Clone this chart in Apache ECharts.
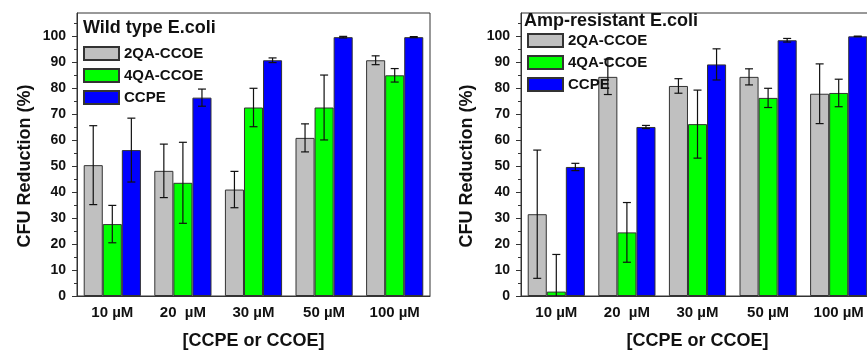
<!DOCTYPE html>
<html>
<head>
<meta charset="utf-8">
<script src="https://cdn.jsdelivr.net/npm/echarts@6/dist/echarts.min.js"></script>
<style>
html,body{margin:0;padding:0;background:#fff;}
#c{width:867px;height:354px;}
</style>
</head>
<body>
<div id="c"></div>
<script>
var categories = ['10 µM', '20  µM', '30 µM', '50 µM', '100 µM'];
var seriesNames = ['2QA-CCOE', '4QA-CCOE', 'CCPE'];
var yTicks = [0, 10, 20, 30, 40, 50, 60, 70, 80, 90, 100];

var wild2QA = [50.4, 48.2, 41.0, 60.9, 90.8];
var wild2QAErr = [15.2, 10.3, 7.0, 5.4, 1.7];
var wild4QA = [27.7, 43.6, 72.6, 72.6, 85.0];
var wild4QAErr = [7.2, 15.6, 7.4, 12.5, 2.6];
var wildCCPE = [56.2, 76.4, 90.8, 99.7, 99.7];
var wildCCPEErr = [12.3, 3.3, 0.9, 0.3, 0.2];

var amp2QA = [31.5, 84.4, 80.9, 84.4, 77.9];
var amp2QAErr = [24.7, 6.8, 2.8, 3.1, 11.5];
var amp4QA = [1.7, 24.5, 66.2, 76.3, 78.2];
var amp4QAErr = [14.3, 11.5, 13.1, 3.7, 5.3];
var ampCCPE = [49.7, 65.1, 89.2, 98.5, 100.0];
var ampCCPEErr = [1.4, 0.6, 6.0, 0.7, 0.1];

var FONT = '"Liberation Sans", Arial, sans-serif';
var colors = ['#c0c0c0', '#00ff00', '#0000ff'];
var CAT_GAP = 0.19;

var chart = echarts.init(document.getElementById('c'), null, {renderer: 'canvas'});

function makeGrid(left) {
  return {left: left, top: 13, width: 353, height: 283, show: true, borderColor: '#333', borderWidth: 1,
          containLabel: false, outerBoundsMode: 'none'};
}
function makeX(gridIndex) {
  return [{
    type: 'category', gridIndex: gridIndex, data: categories,
    axisLine: {lineStyle: {color: '#333', width: 1}},
    axisTick: {alignWithLabel: true, length: 4, lineStyle: {color: '#333'}},
    axisLabel: {margin: 9, fontFamily: FONT, fontWeight: 'bold', fontSize: 15, color: '#111', hideOverlap: false},
    name: '[CCPE or CCOE]', nameLocation: 'middle', nameGap: 36,
    nameTextStyle: {fontFamily: FONT, fontWeight: 'bold', fontSize: 18, color: '#111'}
  }, {
    type: 'category', gridIndex: gridIndex, data: categories, position: 'bottom',
    axisLine: {show: false},
    axisTick: {alignWithLabel: false, length: 3, lineStyle: {color: '#333'}},
    axisLabel: {show: false}
  }];
}
function makeY(gridIndex) {
  return {
    type: 'value', gridIndex: gridIndex, min: 0, max: 109, interval: 10,
    splitLine: {show: false},
    axisLine: {show: true, lineStyle: {color: '#333', width: 1}},
    axisTick: {show: true, length: 5, lineStyle: {color: '#333'}, customValues: yTicks},
    minorTick: {show: true, splitNumber: 2, length: 3, lineStyle: {color: '#333'}},
    axisLabel: {margin: 11, fontFamily: FONT, fontWeight: 'bold', fontSize: 14, color: '#111', customValues: yTicks}
  };
}

var panels = [
  {vals: [wild2QA, wild4QA, wildCCPE], errs: [wild2QAErr, wild4QAErr, wildCCPEErr]},
  {vals: [amp2QA, amp4QA, ampCCPE], errs: [amp2QAErr, amp4QAErr, ampCCPEErr]}
];

var series = [];
panels.forEach(function (p, gi) {
  for (var s = 0; s < 3; s++) {
    series.push({
      name: seriesNames[s], type: 'bar', xAxisIndex: gi * 2, yAxisIndex: gi,
      data: p.vals[s], barGap: '0%', barCategoryGap: (CAT_GAP * 100) + '%',
      itemStyle: {color: colors[s], borderColor: '#333', borderWidth: 1},
      emphasis: {disabled: true}, z: 2
    });
  }
  for (var s2 = 0; s2 < 3; s2++) {
    (function (si) {
      var d = p.vals[si].map(function (v, i) { return [i, v, p.errs[si][i]]; });
      series.push({
        type: 'custom', xAxisIndex: gi * 2, yAxisIndex: gi, data: d, z: 5, clip: true,
        silent: true,
        renderItem: function (params, api) {
          var ci = api.value(0), m = api.value(1), e = api.value(2);
          var band = api.size([1, 0])[0];
          var bw = band * (1 - CAT_GAP) / 3;
          var off = (si - 1) * bw;
          var top = api.coord([ci, m + e]);
          var bot = api.coord([ci, m - e]);
          var x = top[0] + off;
          var cap = 4;
          var st = {stroke: '#111', lineWidth: 1.2};
          return {
            type: 'group', children: [
              {type: 'line', shape: {x1: x, y1: top[1], x2: x, y2: bot[1]}, style: st},
              {type: 'line', shape: {x1: x - cap, y1: top[1], x2: x + cap, y2: top[1]}, style: st},
              {type: 'line', shape: {x1: x - cap, y1: bot[1], x2: x + cap, y2: bot[1]}, style: st}
            ]
          };
        }
      });
    })(s2);
  }
});

function legend(left, top) {
  return {
    left: left, top: top, orient: 'vertical', itemWidth: 35, itemHeight: 13, itemGap: 7,
    padding: 0, icon: 'rect', data: seriesNames, selectedMode: false,
    textStyle: {fontFamily: FONT, fontWeight: 'bold', fontSize: 15, color: '#111', padding: [0, 0, 0, 0]}
  };
}

var option = {
  animation: false,
  backgroundColor: '#fff',
  title: [
    {text: 'Wild type E.coli', left: 83, top: 19, padding: 0,
     textStyle: {fontFamily: FONT, fontWeight: 'bold', fontSize: 18, color: '#111'}},
    {text: 'Amp-resistant E.coli', left: 524, top: 12, padding: 0,
     textStyle: {fontFamily: FONT, fontWeight: 'bold', fontSize: 18, color: '#111'}}
  ],
  legend: [legend(83, 46), legend(527, 33)],
  grid: [makeGrid(77), makeGrid(521)],
  xAxis: makeX(0).concat(makeX(1)),
  yAxis: [makeY(0), makeY(1)],
  series: series,
  graphic: [
    {type: 'text', x: 25, y: 166, rotation: Math.PI / 2,
     style: {text: 'CFU Reduction (%)', fontFamily: FONT, fontWeight: 'bold', fontSize: 18, fill: '#111', align: 'center', verticalAlign: 'middle'}},
    {type: 'text', x: 467, y: 166, rotation: Math.PI / 2,
     style: {text: 'CFU Reduction (%)', fontFamily: FONT, fontWeight: 'bold', fontSize: 18, fill: '#111', align: 'center', verticalAlign: 'middle'}}
  ]
};
option.xAxis[2].gridIndex = 1;
option.xAxis[3].gridIndex = 1;
chart.setOption(option);
</script>
</body>
</html>
